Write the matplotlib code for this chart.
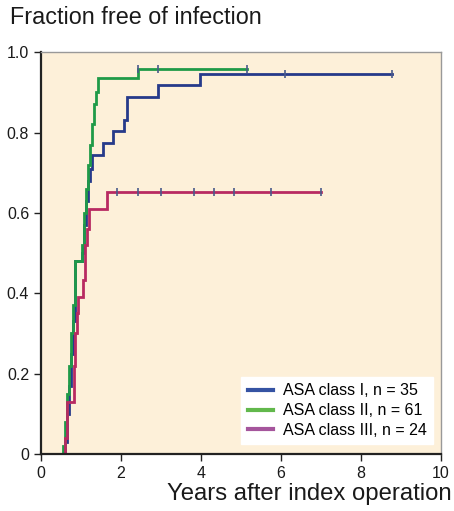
import numpy as np
import matplotlib
matplotlib.use("Agg")
import matplotlib.pyplot as plt
from matplotlib.lines import Line2D

# step curves (time in years, fraction free of infection)
asa1_t = [0, 0.6, 0.65, 0.7, 0.75, 0.8, 0.85, 1.02, 1.07, 1.12, 1.17, 1.22, 1.27,
          1.56, 1.79, 2.08, 2.14, 2.92, 3.98, 8.77]
asa1_v = [0, 0.03, 0.10, 0.17, 0.25, 0.33, 0.48, 0.50, 0.57, 0.63, 0.68, 0.71, 0.744,
          0.773, 0.803, 0.831, 0.888, 0.917, 0.946, 0.946]
asa1_cens = [6.1, 8.77]

asa2_t = [0, 0.55, 0.6, 0.65, 0.7, 0.75, 0.8, 0.85, 1.02, 1.07, 1.12, 1.17, 1.22,
          1.27, 1.32, 1.38, 1.43, 2.43, 5.14]
asa2_v = [0, 0.02, 0.08, 0.15, 0.22, 0.30, 0.37, 0.48, 0.52, 0.60, 0.66, 0.72, 0.77,
          0.82, 0.87, 0.90, 0.935, 0.958, 0.958]
asa2_cens = [2.43, 2.92, 5.14]

asa3_t = [0, 0.6, 0.64, 0.83, 0.86, 0.9, 0.93, 1.06, 1.1, 1.15, 1.2, 1.64, 7.0]
asa3_v = [0, 0.04, 0.13, 0.22, 0.30, 0.35, 0.39, 0.434, 0.52, 0.56, 0.609, 0.652, 0.652]
asa3_cens = [1.91, 2.42, 3.0, 3.83, 4.33, 4.83, 5.75, 7.0]

labels = ["ASA class I, n = 35", "ASA class II, n = 61", "ASA class III, n = 24"]
line_colors = ["#263a8a", "#1f9a48", "#b82a62"]
legend_colors = ["#3553a3", "#62b84c", "#a5559c"]

plt.rcParams["font.family"] = ["Liberation Sans", "DejaVu Sans"]

fig = plt.figure(figsize=(4.54, 5.11), dpi=100)
ax = fig.add_axes([0.0903, 0.1115, 0.8807, 0.7865])
ax.set_facecolor("#fdf0d9")

series = [(asa1_t, asa1_v, asa1_cens), (asa2_t, asa2_v, asa2_cens), (asa3_t, asa3_v, asa3_cens)]
for (t, v, cens), c in zip(series, line_colors):
    ax.step(t, v, where="post", color=c, lw=2.0, solid_joinstyle="miter")
    # censoring marks sit on the current step level
    cy = [v[np.searchsorted(t, x, side="right") - 1] for x in cens]
    ax.plot(cens, cy, ls="none", marker="|", ms=6, mew=1.2, color="#4a5a8a")

ax.set_xlim(0, 10)
ax.set_ylim(0, 1.0)
ax.set_xticks([0, 2, 4, 6, 8, 10])
ax.set_yticks([0, 0.2, 0.4, 0.6, 0.8, 1.0])
ax.set_yticklabels(["0", "0.2", "0.4", "0.6", "0.8", "1.0"])
ax.tick_params(labelsize=11.5, length=5, width=1, direction="out", color="#222222",
               labelcolor="#1a1a1a")
for s in ["left", "bottom"]:
    ax.spines[s].set_color("#222222")
    ax.spines[s].set_linewidth(1.6)
for s in ["top", "right"]:
    ax.spines[s].set_color("#999999")
    ax.spines[s].set_linewidth(1.0)

handles = [Line2D([0], [0], color=c, lw=3) for c in legend_colors]
leg = ax.legend(handles, labels, loc="lower right", bbox_to_anchor=(0.985, 0.02),
                fontsize=11.5, frameon=True, fancybox=False, framealpha=1,
                edgecolor="white", handlelength=1.6, labelspacing=0.3,
                borderpad=0.4, handletextpad=0.6, borderaxespad=0.1)

fig.text(10 / 454, 1 - 18 / 511, "Fraction free of infection", fontsize=16.8,
         ha="left", va="center", color="#1a1a1a")
fig.text(452 / 454, 1 - 494 / 511, "Years after index operation", fontsize=17.2,
         ha="right", va="center", color="#1a1a1a")

fig.savefig("out.png", dpi=100)
